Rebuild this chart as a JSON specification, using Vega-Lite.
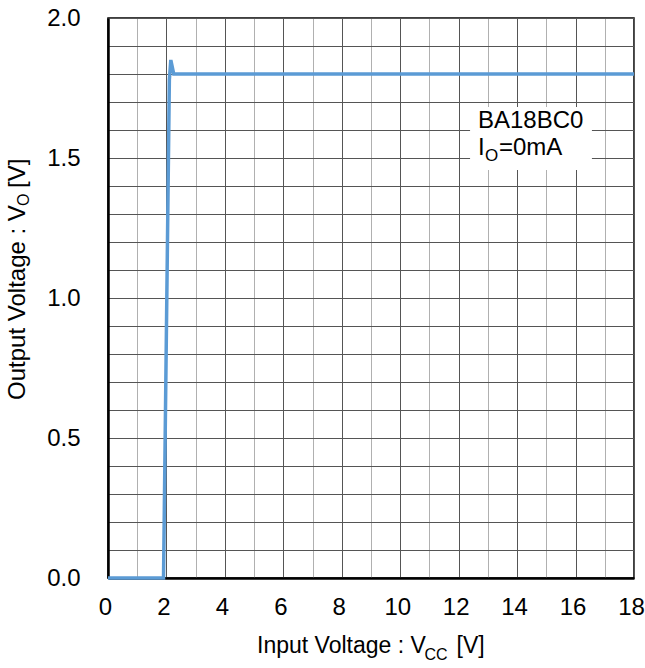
{
  "$schema": "https://vega.github.io/schema/vega-lite/v6.json",
  "width": 526,
  "height": 560,
  "autosize": {"type": "none"},
  "padding": {"left": 108, "top": 18, "right": 11, "bottom": 90},
  "background": "white",
  "config": {
    "view": {"stroke": "black", "strokeWidth": 1.5},
    "font": "Liberation Sans",
    "axis": {"title": null, "labelFont": "Liberation Sans", "labelFontSize": 24, "labelColor": "black", "ticks": false, "domainColor": "black", "domainWidth": 2.5, "gridWidth": 1, "gridOpacity": 1, "labelOverlap": false, "labelFlush": false},
    "axisX": {"tickCount": 18, "labelPadding": 17, "labelOffset": -3, "labelExpr": "datum.value % 2 == 0 ? datum.label : ''",
      "gridColor": {"condition": {"test": "datum.value % 2 == 0", "value": "#555555"}, "value": "#b0b0b0"}},
    "axisY": {"tickCount": 20, "labelPadding": 28, "gridColor": "#555555",
      "labelExpr": "abs(datum.value*2 - round(datum.value*2)) < 0.001 ? format(datum.value, '.1f') : ''"}
  },
  "layer": [
    {
      "data": {"values": [
        {"vcc": 0, "vo": 0},
        {"vcc": 1.9, "vo": 0},
        {"vcc": 2.1, "vo": 1.78},
        {"vcc": 2.15, "vo": 1.85},
        {"vcc": 2.25, "vo": 1.8},
        {"vcc": 18, "vo": 1.8}
      ]},
      "mark": {"type": "line", "color": "#5b9bd5", "strokeWidth": 3.5, "clip": false},
      "encoding": {
        "x": {"field": "vcc", "type": "quantitative", "scale": {"domain": [0, 18], "nice": false, "zero": false}, "axis": {"title": null}},
        "y": {"field": "vo", "type": "quantitative", "scale": {"domain": [0, 2], "nice": false, "zero": false}, "axis": {"title": null}}
      }
    },
    {
      "data": {"values": [{"box": "legend"}]},
      "mark": {"type": "rect", "fill": "white", "stroke": null},
      "encoding": {"x": {"datum": 12.39, "axis": {"title": null}}, "x2": {"datum": 16.56}, "y": {"datum": 1.457, "axis": {"title": null}}, "y2": {"datum": 1.682}}
    },
    {
      "data": {"values": [{"label": "BA18BC0"}]},
      "mark": {"type": "text", "fontSize": 24, "align": "left", "baseline": "alphabetic", "color": "black"},
      "encoding": {"text": {"field": "label"}, "x": {"datum": 12.66, "axis": {"title": null}}, "y": {"datum": 1.607, "axis": {"title": null}}}
    },
    {
      "data": {"values": [{"label": "I"}]},
      "mark": {"type": "text", "fontSize": 24, "align": "left", "baseline": "alphabetic", "color": "black"},
      "encoding": {"text": {"field": "label"}, "x": {"datum": 12.66, "axis": {"title": null}}, "y": {"datum": 1.511, "axis": {"title": null}}}
    },
    {
      "data": {"values": [{"label": "O"}]},
      "mark": {"type": "text", "fontSize": 17, "align": "left", "baseline": "alphabetic", "color": "black"},
      "encoding": {"text": {"field": "label"}, "x": {"datum": 12.9, "axis": {"title": null}}, "y": {"datum": 1.489, "axis": {"title": null}}}
    },
    {
      "data": {"values": [{"label": "=0mA"}]},
      "mark": {"type": "text", "fontSize": 24, "align": "left", "baseline": "alphabetic", "color": "black"},
      "encoding": {"text": {"field": "label"}, "x": {"datum": 13.38, "axis": {"title": null}}, "y": {"datum": 1.511, "axis": {"title": null}}}
    },
    {
      "data": {"values": [{"label": "Input Voltage : V"}]},
      "mark": {"type": "text", "fontSize": 23, "align": "left", "baseline": "alphabetic", "color": "black", "clip": false},
      "encoding": {"text": {"field": "label"}, "x": {"datum": 5.1, "axis": {"title": null}}, "y": {"datum": -0.268, "axis": {"title": null}}}
    },
    {
      "data": {"values": [{"label": "CC"}]},
      "mark": {"type": "text", "fontSize": 16, "align": "left", "baseline": "alphabetic", "color": "black", "clip": false},
      "encoding": {"text": {"field": "label"}, "x": {"datum": 10.83, "axis": {"title": null}}, "y": {"datum": -0.293, "axis": {"title": null}}}
    },
    {
      "data": {"values": [{"label": "[V]"}]},
      "mark": {"type": "text", "fontSize": 23, "align": "left", "baseline": "alphabetic", "color": "black", "clip": false},
      "encoding": {"text": {"field": "label"}, "x": {"datum": 11.93, "axis": {"title": null}}, "y": {"datum": -0.268, "axis": {"title": null}}}
    },
    {
      "data": {"values": [{"label": "Output Voltage : V"}]},
      "mark": {"type": "text", "fontSize": 24, "align": "left", "baseline": "middle", "angle": 270, "color": "black", "clip": false},
      "encoding": {"text": {"field": "label"}, "x": {"datum": -3.08, "axis": {"title": null}}, "y": {"datum": 0.636, "axis": {"title": null}}}
    },
    {
      "data": {"values": [{"label": "O"}]},
      "mark": {"type": "text", "fontSize": 16, "align": "left", "baseline": "middle", "angle": 270, "color": "black", "clip": false},
      "encoding": {"text": {"field": "label"}, "x": {"datum": -2.88, "axis": {"title": null}}, "y": {"datum": 1.329, "axis": {"title": null}}}
    },
    {
      "data": {"values": [{"label": "[V]"}]},
      "mark": {"type": "text", "fontSize": 24, "align": "left", "baseline": "middle", "angle": 270, "color": "black", "clip": false},
      "encoding": {"text": {"field": "label"}, "x": {"datum": -3.08, "axis": {"title": null}}, "y": {"datum": 1.393, "axis": {"title": null}}}
    }
  ]
}
